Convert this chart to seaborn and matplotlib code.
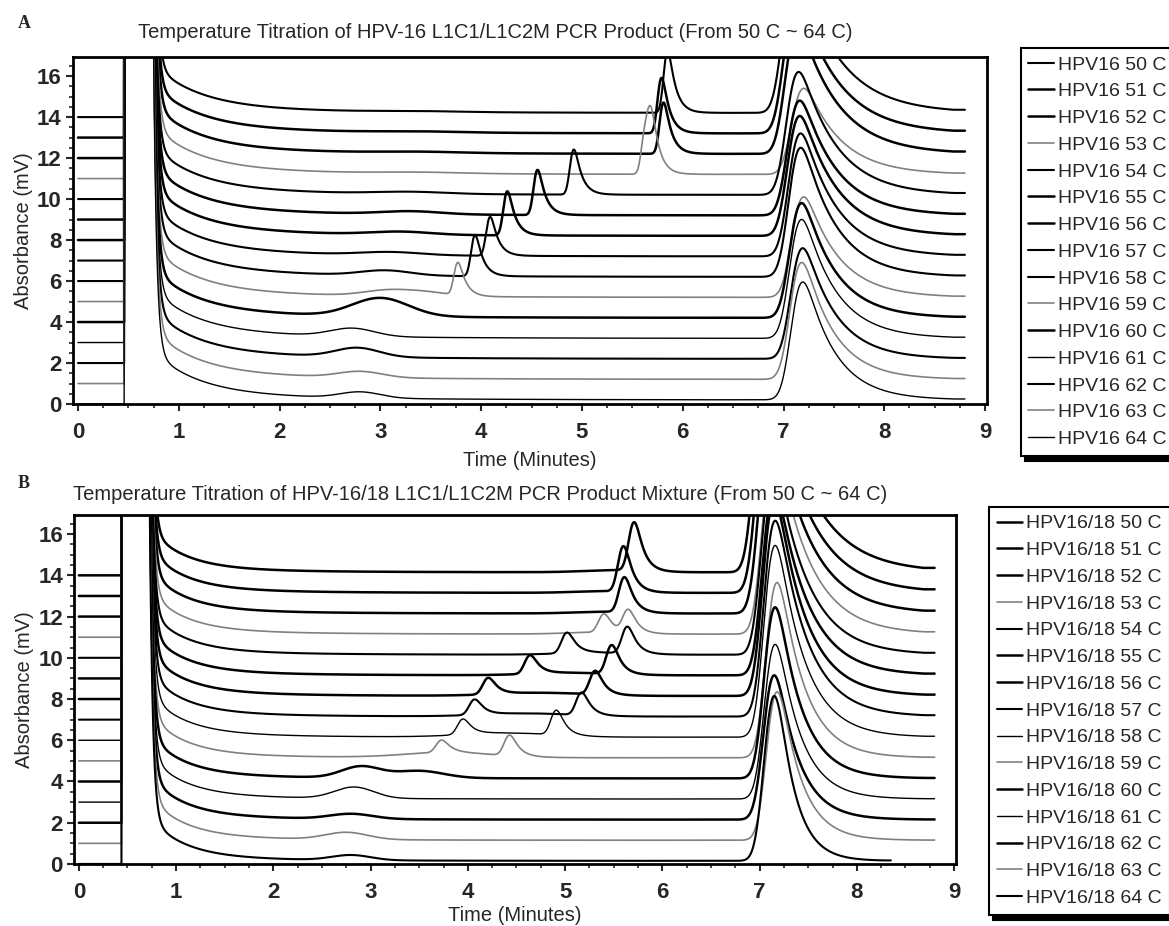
import numpy as np
import pandas as pd
import matplotlib
matplotlib.use('Agg')
import matplotlib.pyplot as plt
import seaborn as sns
from matplotlib.lines import Line2D
from matplotlib.ticker import MultipleLocator

# ---- data ----
temps = list(range(50, 65))
labels_a = [f'HPV16 {t} C' for t in temps]
labels_b = [f'HPV16/18 {t} C' for t in temps]
offsets = [14, 13, 12, 11, 10, 9, 8, 7, 6, 5, 4, 3, 2, 1, 0]
gray_temps = [53, 59, 63]

# solvent front: rise time, back on scale, decay components (amp, tau)
front_a = [0.46, 0.72]
front_b = [0.44, 0.70]
decay_a = [(40.0, 0.03), (2.2, 0.45), (0.3, 1.5)]
decay_b = [(40.0, 0.03), (2.0, 0.35), (0.25, 1.0)]
base_a = 0.2
base_b = 0.15
end_a = [8.8] * 15
end_b = [8.8] * 14 + [8.35]

# broad humps (time, height, width) per trace
humps_a = [[(3.4, 0.04, 0.4)], [(3.4, 0.05, 0.4)], [(3.4, 0.06, 0.4)], [(3.4, 0.06, 0.4)],
           [(3.3, 0.1, 0.35)], [(3.3, 0.15, 0.3)], [(3.2, 0.15, 0.3)], [(3.1, 0.15, 0.3)],
           [(3.05, 0.25, 0.25)], [(3.1, 0.3, 0.25), (3.5, 0.15, 0.2)], [(3.0, 0.9, 0.28)],
           [(2.72, 0.4, 0.22)], [(2.77, 0.45, 0.22)], [(2.8, 0.3, 0.22)], [(2.8, 0.3, 0.2)]]
humps_b = [[(5.5, 0.1, 0.3)], [(5.4, 0.08, 0.3)], [(5.4, 0.08, 0.3)], [(5.3, 0.08, 0.3)],
           [(5.3, 0.1, 0.35)], [(5.05, 0.12, 0.4)], [(4.75, 0.15, 0.45)], [(4.6, 0.15, 0.45)],
           [(4.4, 0.2, 0.45)], [(3.8, 0.25, 0.45)], [(2.9, 0.55, 0.2), (3.5, 0.35, 0.25)],
           [(2.83, 0.55, 0.2)], [(2.8, 0.25, 0.22)], [(2.75, 0.35, 0.22)], [(2.8, 0.25, 0.2)]]

# sharp product peaks (apex time, height)
sharp_a = [[(5.85, 3.0)], [(5.79, 2.7)], [(5.81, 2.5)], [(5.63, 2.0), (5.69, 2.1)],
           [(4.92, 2.2)], [(4.56, 2.2)], [(4.26, 2.15)], [(4.09, 1.9)], [(3.94, 2.0)],
           [(3.77, 1.6)], [], [], [], [], []]
sharp_b = [[(5.71, 2.35)], [(5.60, 2.2)], [(5.61, 1.7)], [(5.40, 0.9), (5.65, 1.1)],
           [(5.02, 1.0), (5.64, 1.3)], [(4.64, 0.9), (5.48, 1.4)], [(4.21, 0.8), (5.31, 1.15)],
           [(4.07, 0.75), (5.17, 1.1)], [(3.95, 0.75), (4.91, 1.2)], [(3.73, 0.6), (4.43, 1.0)],
           [], [], [], [], []]

# main peak near 7.2 min (apex, height, tail)
main_t_a = [7.12, 7.13, 7.14, 7.20, 7.15, 7.16, 7.16, 7.17, 7.17, 7.20, 7.18, 7.18, 7.19, 7.18, 7.19]
main_h_a = [7.0, 6.5, 6.2, 4.2, 6.0, 5.6, 5.85, 6.0, 6.3, 4.9, 5.6, 5.8, 5.4, 5.7, 5.75]
main_tail_a = [0.40, 0.39, 0.38, 0.35, 0.36, 0.35, 0.35, 0.34, 0.33, 0.33, 0.32, 0.32, 0.31, 0.30, 0.30]
main_t_b = [7.08, 7.10, 7.12, 7.15, 7.14, 7.15, 7.15, 7.16, 7.16, 7.18, 7.16, 7.16, 7.15, 7.18, 7.15]
main_h_b = [10.5, 10.0, 9.5, 9.0, 9.0, 9.0, 9.5, 9.5, 9.3, 8.5, 8.3, 7.5, 7.0, 7.2, 8.0]
main_tail_b = [0.40, 0.38, 0.36, 0.34, 0.33, 0.32, 0.30, 0.30, 0.28, 0.26, 0.25, 0.24, 0.23, 0.22, 0.18]

widths_a = [1.5, 1.8, 1.8, 1.2, 1.5, 1.8, 1.8, 1.5, 1.5, 1.2, 1.8, 1.0, 1.5, 1.2, 1.0]
widths_b = [1.8, 1.8, 1.8, 1.2, 1.5, 1.8, 1.8, 1.5, 1.0, 1.2, 1.8, 1.0, 1.8, 1.2, 1.5]

dt = 0.002


def emg(t, apex, height, sigma, tau):
    # gaussian convolved with an exponential tail, scaled so its apex sits at `apex`
    g = np.exp(-0.5 * ((t - apex) / sigma) ** 2)
    k = np.exp(-np.arange(0, 8 * tau, dt) / tau)
    y = np.convolve(g, k)[:len(t)]
    shift = t[np.argmax(y)] - apex
    y = np.interp(t + shift, t, y)
    return height * y / y.max()


def build_panel(labels, front, decay, base, ends, humps, sharp, main_t, main_h, main_tail,
                sharp_sigma, sharp_tau, main_sigma):
    frames = []
    for i, lab in enumerate(labels):
        t = np.arange(0, ends[i] + dt / 2, dt)
        y = np.full_like(t, offsets[i] + base)
        s = np.clip(t - front[1], 0, None)
        for amp, tau in decay:
            y += amp * np.exp(-s / tau)
        for c, h, w in humps[i]:
            y += h * np.exp(-0.5 * ((t - c) / w) ** 2)
        for c, h in sharp[i]:
            y += emg(t, c, h, sharp_sigma, sharp_tau)
        y += emg(t, main_t[i], main_h[i], main_sigma, main_tail[i])
        y[t < front[0]] = offsets[i]
        y[(t >= front[0]) & (t < front[1])] = 40
        frames.append(pd.DataFrame({'time': t, 'abs': y, 'sample': lab}))
    return pd.concat(frames, ignore_index=True)


df_a = build_panel(labels_a, front_a, decay_a, base_a, end_a, humps_a, sharp_a,
                   main_t_a, main_h_a, main_tail_a, 0.03, 0.07, 0.08)
df_b = build_panel(labels_b, front_b, decay_b, base_b, end_b, humps_b, sharp_b,
                   main_t_b, main_h_b, main_tail_b, 0.045, 0.08, 0.08)

sns.set_style('ticks')
plt.rcParams['font.family'] = ['Liberation Sans', 'DejaVu Sans']

fig = plt.figure(figsize=(11.69, 9.26), dpi=100)
ax_a = fig.add_axes([0.0624, 0.5637, 0.782, 0.3747])
ax_b = fig.add_axes([0.0633, 0.067, 0.7545, 0.3769])

panels = [
    (ax_a, df_a, labels_a, widths_a, 'Temperature Titration of HPV-16 L1C1/L1C2M PCR Product (From 50 C ~ 64 C)',
     0.424, 0.965, 'A', 0.975, 0.873, 0.948, 6),
    (ax_b, df_b, labels_b, widths_b,
     'Temperature Titration of HPV-16/18 L1C1/L1C2M PCR Product Mixture (From 50 C ~ 64 C)',
     0.411, 0.466, 'B', 0.478, 0.846, 0.4525, 2),
]

for ax, df, labels, widths, title, tx, ty, tag, tagy, lx, ly, xpad in panels:
    colors = {lab: ('#808080' if t in gray_temps else 'black') for lab, t in zip(labels, temps)}
    sizes = dict(zip(labels, widths))
    sns.lineplot(data=df, x='time', y='abs', hue='sample', size='sample',
                 hue_order=labels, size_order=labels, palette=colors, sizes=sizes,
                 estimator=None, sort=False, legend=False, ax=ax)

    ax.set_xlim(-0.05, 9.02)
    ax.set_ylim(0, 16.93)
    ax.xaxis.set_major_locator(MultipleLocator(1))
    ax.xaxis.set_minor_locator(MultipleLocator(0.25))
    ax.yaxis.set_major_locator(MultipleLocator(2))
    ax.yaxis.set_minor_locator(MultipleLocator(0.5))
    ax.tick_params(which='major', direction='out', length=5, width=1.5, labelsize=16, pad=3)
    ax.tick_params(axis='x', which='major', pad=8)
    ax.tick_params(which='minor', direction='out', length=3, width=1.2)
    for lbl in ax.get_xticklabels() + ax.get_yticklabels():
        lbl.set_fontweight('bold')
    for sp in ax.spines.values():
        sp.set_visible(True)
        sp.set_linewidth(2)
        sp.set_color('black')
    ax.set_xlabel('Time (Minutes)', fontsize=14.5, labelpad=xpad)
    ax.set_ylabel('Absorbance (mV)', fontsize=14.5, labelpad=3)

    fig.text(tx, ty, title, fontsize=14.5, ha='center', va='center')
    fig.text(0.015, tagy, tag, fontsize=13, fontweight='bold', family='Liberation Serif',
             ha='left', va='center')

    handles = [Line2D([], [], color=colors[lab], lw=sizes[lab]) for lab in labels]
    leg = fig.legend(handles, labels, loc='upper left', bbox_to_anchor=(lx, ly),
                     borderaxespad=0, fontsize=14, frameon=True, fancybox=False,
                     framealpha=1, handlelength=1.3, handletextpad=0.22,
                     labelspacing=0.47, borderpad=0.4,
                     shadow={'ox': 3, 'oy': -4, 'color': 'black', 'alpha': 1})
    leg.get_frame().set_edgecolor('black')
    leg.get_frame().set_linewidth(1.5)

fig.savefig('out.png', dpi=100)
